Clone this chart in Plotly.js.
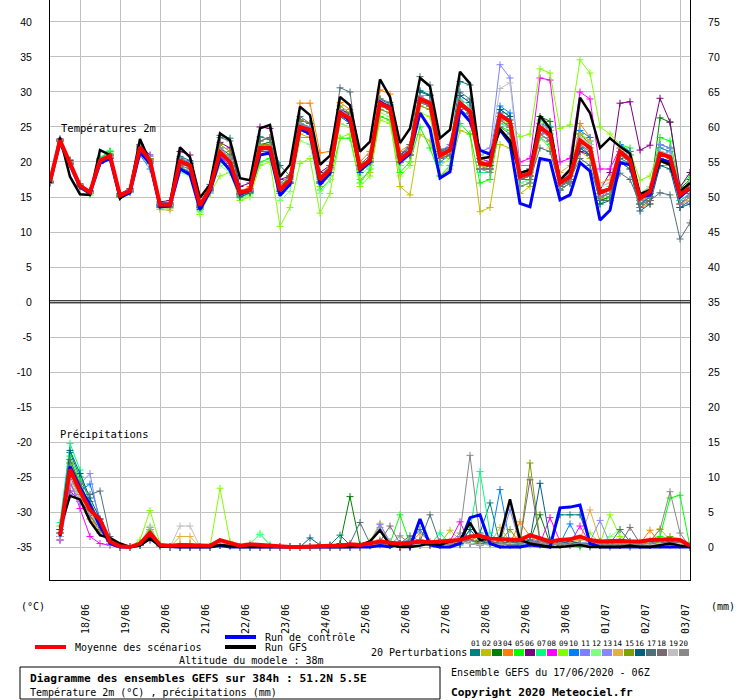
<!DOCTYPE html>
<html>
<head>
<meta charset="utf-8">
<script src="https://cdn.plot.ly/plotly-3.0.1.min.js"></script>
<style>
html,body{margin:0;padding:0;background:#fff;}
#chart{width:740px;height:700px;}
</style>
</head>
<body>
<div id="chart"></div>
<script>
// ---- time axis: hours since 17/06/2020 06Z (6-hourly, 384h) ----
const hours = [0,6,12,18,24,30,36,42,48,54,60,66,72,78,84,90,96,102,108,114,120,126,132,138,144,150,156,162,168,174,180,186,192,198,204,210,216,222,228,234,240,246,252,258,264,270,276,282,288,294,300,306,312,318,324,330,336,342,348,354,360,366,372,378,384];
const dayTickHours = [18,42,66,90,114,138,162,186,210,234,258,282,306,330,354,378];
const dayTickLabels = ["18/06","19/06","20/06","21/06","22/06","23/06","24/06","25/06","26/06","27/06","28/06","29/06","30/06","01/07","02/07","03/07"];
const leftTickVals = [-35,-30,-25,-20,-15,-10,-5,0,5,10,15,20,25,30,35,40];
const leftTickText = ["-35","-30","-25","-20","-15","-10","-5","0","5","10","15","20","25","30","35","40"];
const rightTickText = ["0","5","10","15","20","25","30","35","40","45","50","55","60","65","70","75"];

// ---- temperature 2m (°C) ----
const tempMean = [17.2,23.1,19.8,16.6,15.7,20.2,20.9,15.2,15.9,22.1,20.2,13.9,13.9,20.1,19.5,13.8,16.2,21.4,20.0,15.6,16.0,22.0,22.0,16.0,17.4,25.0,24.6,17.5,18.9,27.0,26.2,19.1,20.3,28.4,27.7,20.3,21.5,29.0,28.4,20.9,21.7,28.4,27.2,19.8,19.6,26.7,25.8,17.9,18.4,25.0,23.9,17.0,17.9,23.1,22.0,15.6,16.2,21.5,20.3,14.8,15.8,21.2,20.7,15.3,16.3];
const tempGFS = [17.0,23.5,17.9,15.4,15.3,21.7,21.0,14.8,16.0,23.3,20.0,14.0,14.0,22.1,20.7,14.9,16.8,24.1,23.1,17.7,17.4,24.8,25.3,17.9,19.6,27.9,26.7,19.6,20.9,29.3,28.1,21.5,22.9,31.8,29.3,22.7,24.8,32.0,30.8,23.4,24.6,32.9,31.2,20.5,20.7,24.7,23.1,18.4,18.9,26.6,24.8,17.4,18.9,29.2,27.0,22.0,23.4,22.2,21.2,15.4,16.0,20.2,19.6,15.8,17.0];
const tempCtrl = [17.0,22.8,19.6,16.4,15.5,19.8,20.5,14.9,15.6,21.4,19.8,13.6,13.7,19.0,18.2,13.2,15.8,20.5,18.8,15.4,16.0,21.0,21.3,15.2,16.8,24.8,24.0,16.8,18.4,27.2,25.8,18.8,20.0,28.6,27.8,20.0,21.2,27.0,24.8,17.7,18.6,27.4,25.8,21.7,21.1,24.6,22.7,14.1,13.6,20.5,20.2,14.6,15.3,19.9,18.7,11.7,13.1,19.9,19.6,15.0,15.3,20.4,20.0,15.0,16.2];
const tP01 = [17.1,23.0,20.3,16.9,15.6,20.0,21.2,15.0,15.7,21.8,20.4,13.6,13.5,20.8,20.2,13.6,16.8,23.8,23.4,16.0,15.8,23.6,23.2,19.5,18.0,25.8,24.2,17.0,19.5,27.5,27.0,19.6,21.0,29.0,28.2,21.0,22.0,30.2,29.6,21.8,22.0,31.5,31.0,20.5,20.0,27.5,26.5,18.5,19.0,24.0,23.0,16.5,17.2,22.0,21.0,14.5,15.0,20.5,19.8,14.0,15.0,22.5,22.0,14.5,15.5];
const tP02 = [17.3,22.9,19.6,16.4,15.8,20.4,20.6,15.3,16.0,22.4,20.0,14.0,14.2,20.5,19.0,14.0,15.8,21.0,19.5,15.2,16.2,21.5,21.5,15.5,17.0,24.0,23.5,16.5,18.0,25.5,25.0,17.5,18.5,26.5,26.0,16.5,15.3,23.9,23.0,18.0,19.0,24.5,24.0,12.9,13.5,22.5,22.0,15.5,16.5,23.5,22.0,16.0,17.0,21.5,20.5,14.8,15.5,20.0,19.0,13.5,14.5,20.5,20.0,15.5,16.8];
const tP03 = [17.2,23.2,19.9,16.5,15.5,20.5,21.5,15.4,16.1,22.0,20.5,13.8,13.8,20.0,19.8,13.5,16.0,22.0,21.0,15.3,15.6,22.5,22.8,16.5,17.8,25.5,25.0,18.0,19.0,27.0,26.5,19.0,20.2,28.0,27.5,20.5,21.0,28.5,28.0,21.0,21.5,28.0,27.0,19.0,19.5,27.0,26.0,18.0,18.5,26.5,25.8,17.5,18.0,24.0,22.5,14.5,15.0,21.0,20.0,14.0,15.0,26.3,25.7,16.2,17.5];
const tP04 = [17.2,23.1,20.0,16.8,15.6,20.3,20.8,15.1,15.8,22.3,20.3,13.5,13.4,20.3,19.6,13.7,16.5,21.8,20.5,15.8,16.5,23.0,23.5,16.5,18.0,28.4,28.4,21.3,21.5,28.5,27.5,20.0,21.5,30.3,29.7,21.5,22.5,29.5,28.5,20.5,21.0,28.5,27.5,19.5,19.0,26.0,25.0,17.5,18.0,24.5,24.0,16.5,17.5,25.5,23.5,15.5,16.0,21.0,20.0,13.5,14.0,21.5,21.0,13.5,14.5];
const tP05 = [17.2,23.0,19.9,16.5,15.3,20.5,21.5,15.0,15.8,21.8,19.8,14.0,14.0,19.0,18.5,13.0,15.5,20.0,19.0,15.0,15.5,20.0,20.5,15.5,17.0,23.5,23.5,16.0,17.5,23.4,23.4,17.0,19.0,26.5,26.0,18.5,20.0,25.0,22.0,18.0,19.5,25.5,24.0,17.0,17.5,25.0,24.5,16.5,17.0,26.0,25.0,16.0,17.0,24.0,23.0,14.0,15.0,22.5,22.0,15.0,16.0,23.5,23.0,16.5,18.0];
const tP06 = [17.0,23.3,20.2,16.7,15.9,19.8,20.5,15.5,16.2,22.5,21.0,14.3,14.5,21.5,21.0,13.2,15.7,22.8,22.0,16.5,17.0,25.0,24.8,17.5,18.0,26.0,25.5,18.5,19.5,27.5,26.8,19.5,20.5,28.0,27.5,20.0,21.5,28.8,28.0,20.5,21.5,28.0,27.0,19.5,19.5,26.5,25.5,18.0,18.5,24.5,23.5,17.5,18.5,21.5,21.0,16.0,18.5,28.4,28.6,21.7,22.4,29.1,25.7,16.4,18.5];
const tP07 = [17.3,23.0,19.7,16.6,15.8,20.6,21.6,15.4,16.0,21.6,20.0,13.9,14.0,19.5,19.5,14.0,16.3,21.0,19.5,15.3,15.8,22.5,22.0,15.8,16.9,24.5,24.0,17.5,18.5,26.5,26.0,18.8,19.5,27.5,27.0,19.5,21.0,29.5,29.5,20.5,21.0,29.0,28.0,18.5,18.5,25.5,25.0,17.0,17.5,23.5,22.5,16.5,17.5,22.5,21.0,15.5,16.5,21.5,21.0,14.0,15.5,19.5,19.5,14.5,15.5];
const tP08 = [17.1,23.2,19.8,16.5,15.6,20.1,20.7,15.2,15.9,22.0,20.2,13.8,13.8,20.4,19.8,13.9,16.1,20.8,19.5,15.5,15.9,22.0,22.5,16.2,17.5,25.2,24.8,17.8,19.2,27.0,26.3,19.2,20.5,28.5,27.8,20.8,21.8,29.3,28.6,21.0,22.0,28.0,27.0,20.5,20.0,26.5,25.5,20.0,20.5,32.0,31.7,20.0,20.5,30.0,29.0,19.0,19.0,22.0,21.5,14.5,15.5,20.5,20.0,14.0,15.5];
const tP09 = [17.2,23.0,19.9,16.4,15.7,20.2,21.3,15.0,15.6,21.5,19.5,13.5,13.6,19.5,18.5,12.5,15.5,18.0,18.5,14.5,15.0,19.5,20.0,10.8,13.5,19.8,20.5,12.7,15.5,23.5,24.0,16.5,18.0,26.0,25.5,18.0,19.5,27.0,26.5,19.5,20.5,27.5,26.0,20.0,21.0,26.0,25.5,23.6,24.0,33.3,32.7,24.8,25.3,34.6,32.7,25.0,24.0,22.5,21.5,17.4,18.0,22.0,21.5,16.0,17.0];
const tP10 = [17.2,23.1,19.8,16.6,15.7,20.0,20.6,15.0,15.7,21.0,19.0,13.5,13.8,19.2,18.6,13.5,16.0,21.0,20.5,15.4,16.0,22.3,22.0,16.0,17.0,24.5,24.0,17.0,18.5,26.5,26.0,19.5,20.5,28.0,27.5,20.0,21.0,28.5,28.0,20.0,21.0,27.5,26.5,21.0,21.5,28.0,27.0,17.5,18.0,25.5,25.0,17.0,18.5,24.5,23.5,15.0,15.5,22.5,21.5,14.0,15.0,22.0,21.5,13.5,14.5];
const tP11 = [17.0,23.0,19.8,16.8,15.9,20.3,20.9,15.3,16.1,22.5,20.8,14.2,14.2,20.6,20.0,14.2,16.4,22.0,20.6,15.7,16.0,22.2,21.5,16.5,17.5,25.5,25.0,17.2,18.5,27.5,26.5,19.0,20.0,28.5,27.8,20.5,21.5,29.0,28.0,21.5,22.5,29.5,28.5,21.5,22.0,33.9,32.0,19.5,19.5,24.5,23.5,17.0,18.0,22.5,21.0,15.0,16.0,21.0,20.0,15.5,16.5,22.5,22.0,16.0,17.0];
const tP12 = [17.3,23.1,20.0,16.5,15.5,20.4,21.1,15.1,15.8,21.4,19.5,13.3,13.3,18.5,18.0,12.8,15.7,19.5,18.5,14.8,15.3,21.0,21.0,14.5,15.8,23.0,22.5,15.5,17.5,25.5,25.0,18.0,19.5,27.0,26.5,19.5,21.0,28.0,27.5,20.5,21.5,28.5,27.0,20.0,19.5,26.0,25.0,17.0,17.5,24.0,23.0,17.5,18.5,23.5,22.0,15.5,16.0,22.0,21.0,15.5,16.5,21.5,21.0,15.0,16.0];
const tP13 = [17.1,23.0,19.6,16.7,15.8,20.2,20.8,15.2,16.0,22.0,20.1,13.9,13.9,20.0,19.5,13.8,16.2,21.5,20.0,15.6,16.0,22.0,22.0,15.5,17.0,25.0,24.5,17.5,19.0,27.0,26.0,19.0,20.0,28.0,27.5,20.0,21.5,29.0,28.5,21.0,21.5,28.5,27.5,19.5,19.5,27.0,26.0,18.0,18.5,25.5,24.5,17.0,18.0,23.0,22.0,15.5,16.0,21.5,21.0,14.5,15.5,21.0,21.5,15.5,16.5];
const tP14 = [17.2,23.1,19.9,16.6,15.6,20.1,20.7,15.0,15.7,21.9,20.0,13.2,13.1,20.0,19.5,13.8,16.1,21.3,20.0,15.6,16.2,22.0,22.0,16.0,17.5,25.0,24.5,17.5,19.0,27.0,26.2,19.0,20.0,28.0,27.5,20.0,21.0,28.5,28.0,20.5,21.5,28.0,27.0,19.5,19.0,26.0,25.0,18.0,18.5,25.0,24.0,18.5,19.5,24.0,23.0,17.0,17.5,22.0,21.0,14.0,14.5,20.0,19.5,14.0,14.5];
const tP15 = [17.3,23.2,20.1,16.8,15.7,20.3,21.0,15.4,16.0,22.3,20.5,14.0,14.0,20.3,19.7,13.6,16.0,22.5,21.5,15.3,15.8,22.5,22.5,16.5,18.0,26.0,25.5,18.0,19.5,28.0,27.0,19.5,20.5,27.5,27.0,20.0,21.0,28.0,27.5,20.5,21.0,28.0,27.0,19.0,19.0,26.5,25.5,17.5,18.0,25.0,24.0,17.5,18.5,23.5,22.0,16.0,16.0,21.5,20.0,14.5,15.5,21.0,20.5,15.5,16.0];
const tP16 = [17.1,23.0,19.7,16.6,15.8,20.2,20.9,15.1,15.8,21.9,20.0,13.7,13.7,19.8,19.3,13.4,16.0,21.0,19.8,15.0,15.6,21.5,21.5,15.8,17.0,24.5,24.0,17.0,18.5,26.5,25.5,18.5,20.0,28.5,28.0,21.0,22.0,30.0,29.5,21.5,22.0,29.5,28.5,20.0,19.5,27.5,26.5,18.5,19.0,25.5,24.5,16.0,17.0,22.0,21.0,14.0,14.5,20.0,19.0,13.0,14.0,19.5,19.0,13.5,14.0];
const tP17 = [17.2,23.1,19.8,16.5,15.6,20.3,21.0,15.2,15.9,22.2,20.3,13.9,14.0,20.5,19.8,13.8,16.3,23.5,23.0,15.8,16.2,23.0,23.5,17.0,18.0,26.5,25.5,17.8,19.5,30.6,30.0,19.5,20.5,29.0,28.5,21.0,22.5,32.2,31.0,21.5,22.0,30.0,29.0,19.0,19.0,25.0,24.0,17.5,17.5,22.0,21.5,16.5,17.5,20.5,19.5,14.5,14.5,18.4,17.5,14.0,14.5,15.6,15.3,9.0,11.3];
const tP18 = [17.2,23.0,19.8,16.6,15.7,20.0,20.5,15.2,15.8,21.8,19.8,13.9,13.9,19.5,19.0,14.0,16.2,21.2,19.8,15.5,15.8,21.6,21.5,15.8,17.2,24.5,24.0,17.2,18.5,26.5,26.0,19.0,20.0,28.0,27.5,20.0,21.0,28.5,28.0,20.5,21.0,28.0,27.0,19.0,19.0,26.0,25.0,17.5,18.0,24.0,23.0,16.5,17.5,22.5,21.5,15.0,15.5,21.0,20.0,13.5,14.5,20.5,20.0,14.0,15.0];
const tP19 = [17.3,23.0,19.9,16.7,15.7,20.1,20.8,15.3,15.9,21.9,20.3,14.0,13.8,20.2,19.5,13.9,16.3,21.5,20.2,15.7,16.1,22.1,22.2,16.2,17.5,25.2,24.8,17.7,19.0,27.2,26.4,19.3,20.4,28.6,27.9,20.5,21.6,29.2,28.6,21.0,21.8,28.6,27.4,21.0,21.5,30.5,31.3,18.5,19.0,25.5,24.5,17.5,18.5,23.5,22.5,16.5,17.0,22.0,21.0,15.0,16.0,21.5,21.0,15.5,17.0];
const tP20 = [17.1,23.2,19.9,16.7,15.8,20.3,21.0,15.3,16.0,22.1,20.3,14.0,14.0,19.8,19.2,13.7,16.1,21.6,20.3,15.7,16.1,22.3,22.3,16.3,17.6,25.3,24.8,17.8,19.2,27.3,26.5,19.3,20.5,28.7,28.0,20.6,21.8,29.3,28.7,21.2,22.0,28.7,27.5,19.0,18.5,26.0,25.0,16.5,17.0,24.0,23.0,16.0,17.0,22.5,21.5,15.0,15.5,21.0,20.0,14.5,15.0,20.5,20.0,14.0,15.0];

// ---- precipitation (mm per 6h) ----
const precMean = [null,1.7,11.1,8.0,5.3,3.9,0.8,0.1,0.0,0.5,2.0,0.3,0.2,0.3,0.3,0.2,0.2,1.0,0.6,0.2,0.4,0.3,0.1,0.0,0.0,0.0,0.1,0.1,0.2,0.2,0.4,0.3,0.5,0.8,0.6,0.5,0.6,0.8,0.7,0.8,0.8,1.0,1.5,1.6,1.2,1.1,1.0,1.0,1.7,1.2,0.8,1.0,1.1,1.5,1.0,0.8,0.9,0.9,0.8,0.8,1.0,1.1,1.1,1.0,0.2];
const precGFS = [null,2.7,7.3,6.8,3.7,1.7,1.3,0.5,0.0,0.2,1.2,0.1,0.0,0.0,0.0,0.0,0.0,0.3,0.1,0.0,0.0,0.0,0.0,0.0,0.0,0.0,0.0,0.0,0.0,0.0,0.0,0.3,0.8,2.4,0.3,0.0,0.0,0.2,0.5,0.3,0.8,1.0,3.5,1.0,1.2,1.3,6.8,1.0,0.5,0.3,0.0,0.0,0.2,0.3,0.0,0.0,0.0,0.0,0.2,0.0,0.0,0.3,0.5,0.2,0.0];
const precCtrl = [null,1.5,11.5,8.5,6.0,3.0,0.5,0.0,0.0,0.3,1.5,0.1,0.0,0.0,0.0,0.0,0.0,0.2,0.0,0.0,0.0,0.0,0.0,0.0,0.0,0.0,0.0,0.0,0.0,0.0,0.0,0.0,0.0,0.2,0.0,0.5,0.0,4.0,0.3,0.0,0.0,0.5,4.2,4.6,0.5,0.0,0.0,0.0,0.3,0.2,0.0,5.6,5.7,6.0,0.5,0.0,0.0,0.0,0.0,0.0,0.0,0.0,0.0,0.0,0.0];
const pP01 = [null,2.0,13.5,10.0,6.5,3.5,0.8,0.0,0.0,0.3,2.0,0.2,0.0,0.0,0.0,0.0,0.0,0.5,0.2,0.0,0.0,0.0,0.0,0.0,0.0,0.0,0.0,0.0,0.3,1.7,0.3,0.0,0.2,0.5,0.2,0.0,0.0,0.5,0.3,0.8,0.5,0.3,1.5,2.0,6.3,0.5,0.3,0.2,0.5,1.0,0.5,4.6,4.6,4.6,0.5,0.2,0.0,0.3,0.5,0.2,0.3,0.5,0.8,0.3,0.0];
const pP02 = [null,1.5,9.0,7.0,4.5,2.0,0.5,0.0,0.0,0.5,2.5,0.3,0.0,0.3,0.5,0.0,0.0,0.8,0.4,0.0,0.2,0.0,0.0,0.0,0.0,0.0,0.0,0.0,0.0,0.0,0.0,0.2,0.8,3.4,0.5,0.0,0.3,0.5,0.3,0.5,2.4,1.0,0.5,0.3,0.5,0.8,0.5,1.0,0.5,0.5,0.3,0.5,0.3,0.5,0.3,0.5,0.3,0.5,0.3,0.5,0.8,2.6,1.0,0.5,0.0];
const pP03 = [null,2.5,12.0,8.5,5.0,3.0,1.0,0.0,0.0,0.5,1.5,0.2,0.0,0.0,0.0,0.0,0.0,0.3,0.2,0.0,0.0,0.0,0.0,0.0,0.0,0.0,0.0,0.0,0.2,0.5,7.2,0.3,0.2,0.5,0.3,0.0,0.0,0.3,0.5,0.3,0.5,0.5,0.8,1.0,0.5,0.3,0.8,0.5,1.0,4.6,0.5,0.3,0.5,0.3,0.0,0.3,0.5,0.3,0.0,0.3,0.5,0.8,0.5,0.3,0.0];
const pP04 = [null,1.0,10.5,7.5,4.0,2.5,0.3,0.0,0.0,0.3,1.8,0.3,0.0,0.5,0.5,0.0,0.0,0.5,0.3,0.0,0.0,0.0,0.0,0.0,0.0,0.0,0.0,0.0,0.0,0.0,0.0,0.0,0.3,1.0,0.3,0.2,0.5,2.0,0.8,0.5,0.3,0.5,1.0,1.5,0.8,0.5,0.5,3.6,1.5,0.5,0.3,0.5,0.8,0.5,0.3,0.2,0.3,0.5,0.8,0.5,2.4,0.5,0.8,0.3,0.0];
const pP05 = [null,3.0,13.0,9.5,5.5,3.0,0.8,0.0,0.0,0.3,2.8,0.3,0.0,0.0,0.0,0.0,0.0,0.5,0.3,0.0,0.0,0.0,0.0,0.0,0.0,0.0,0.0,0.0,0.0,0.0,0.0,0.0,0.3,0.8,0.5,4.6,0.5,0.3,0.5,0.3,0.5,0.8,0.5,0.5,0.3,0.5,0.3,0.5,0.3,0.5,0.3,0.5,0.3,0.0,0.3,0.3,0.5,0.3,0.5,0.5,0.8,1.5,7.0,7.4,0.0];
const pP06 = [null,1.5,8.0,6.5,5.0,2.5,0.5,0.0,0.0,0.3,1.0,0.2,0.0,0.0,0.0,0.0,0.0,0.3,0.2,0.0,0.0,0.0,0.0,0.0,0.0,0.0,0.0,0.0,0.0,0.0,0.0,0.0,0.5,0.5,0.3,0.0,0.0,0.3,0.5,0.3,0.5,0.8,0.5,0.3,0.5,0.3,0.5,0.3,0.5,0.8,0.5,0.3,0.5,0.3,0.5,0.3,0.5,0.3,0.5,0.3,0.5,0.8,0.5,0.3,0.0];
const pP07 = [null,3.5,14.8,11.0,6.0,3.5,0.5,0.0,0.0,0.5,2.2,0.3,0.0,0.0,0.0,0.0,0.0,0.5,0.3,0.0,0.5,1.8,0.3,0.0,0.0,0.0,0.0,0.0,0.0,0.0,0.0,0.0,0.2,0.5,0.3,0.3,0.5,0.5,0.3,2.0,0.5,0.5,2.5,10.8,2.0,0.5,0.3,0.8,0.5,0.3,0.5,0.3,0.5,0.3,0.5,0.3,0.5,0.3,0.5,0.3,0.3,0.5,0.5,0.3,0.0];
const pP08 = [null,1.0,9.5,5.5,1.5,0.5,0.3,0.0,0.0,0.3,1.5,0.2,0.0,0.0,0.0,0.0,0.0,0.3,0.2,0.0,0.0,0.0,0.0,0.0,0.0,0.0,0.0,0.0,0.0,0.0,0.0,0.0,0.2,0.3,0.2,0.0,0.3,0.5,0.3,0.5,0.8,3.6,0.5,0.3,0.5,0.3,0.5,0.5,0.8,0.5,4.2,0.8,0.5,3.0,0.5,0.3,0.5,0.3,0.5,0.3,0.5,0.3,0.5,0.3,0.0];
const pP09 = [null,2.0,12.5,9.0,5.5,3.5,1.0,0.0,0.0,1.0,5.2,0.5,0.0,0.0,0.0,0.0,0.0,8.4,0.8,0.0,0.0,0.0,0.0,0.0,0.0,0.0,0.0,0.0,0.0,0.0,0.0,0.0,0.3,0.5,0.3,0.3,0.5,0.3,0.5,0.3,0.5,0.8,0.5,0.3,0.5,0.8,0.5,0.3,0.5,0.3,0.5,0.3,0.5,1.0,2.0,0.5,4.6,1.5,0.5,0.3,0.5,0.3,0.5,0.3,0.0];
const pP10 = [null,2.5,11.0,8.0,9.0,4.0,0.8,0.0,0.0,0.3,1.5,0.2,0.0,0.0,0.0,0.0,0.0,0.3,0.2,0.0,0.0,0.0,0.0,0.0,0.0,0.0,0.0,0.0,0.0,0.0,0.0,0.0,0.5,0.5,0.3,0.5,1.0,2.5,0.5,0.3,0.5,0.5,1.0,0.5,0.5,8.2,0.5,0.3,0.5,0.3,0.5,0.5,3.3,0.5,0.3,0.5,0.3,0.5,0.3,0.5,0.3,0.5,0.3,0.5,0.0];
const pP11 = [null,1.5,9.0,6.5,4.5,2.5,0.5,0.0,0.0,0.3,1.2,0.2,0.0,0.0,0.0,0.0,0.0,0.3,0.3,0.0,0.0,0.0,0.0,0.0,0.0,0.0,0.0,0.0,0.0,0.0,0.0,0.0,0.5,3.2,0.8,0.5,0.5,0.8,0.5,0.3,0.5,1.5,1.0,0.5,0.5,0.5,5.3,0.5,0.8,1.0,0.5,0.5,0.8,0.5,0.3,0.5,0.3,0.8,0.5,0.3,0.5,0.8,0.5,0.3,0.0];
const pP12 = [null,2.0,11.5,8.5,5.0,2.5,0.5,0.0,0.0,0.3,1.8,0.2,0.0,0.0,0.0,0.0,0.0,0.5,0.3,0.0,0.3,2.0,0.3,0.0,0.0,0.0,0.0,0.0,0.0,0.0,0.0,0.0,0.3,0.5,0.3,0.3,0.5,0.3,0.5,0.3,0.5,0.5,0.8,0.5,0.3,0.5,0.3,0.5,0.3,0.5,0.3,0.5,0.3,0.5,0.8,0.5,1.5,2.5,0.8,0.3,0.5,0.3,0.5,0.3,0.0];
const pP13 = [null,1.0,7.5,9.0,10.5,3.0,0.3,0.0,0.0,0.3,1.0,0.2,0.0,0.0,0.0,0.0,0.0,0.3,0.2,0.0,0.0,0.0,0.0,0.0,0.0,0.0,0.0,0.0,0.0,0.0,0.0,0.0,0.5,2.8,0.5,0.3,0.5,0.3,0.5,0.3,0.5,0.8,0.5,0.3,0.5,0.3,0.5,0.8,0.5,0.5,0.3,0.5,0.3,0.5,0.8,3.8,0.5,0.3,0.5,0.3,0.5,0.3,0.5,0.3,0.0];
const pP14 = [null,1.5,10.0,7.0,4.0,2.0,0.5,0.0,0.0,0.3,2.0,0.3,0.0,1.5,1.5,0.0,0.0,0.5,0.3,0.0,0.0,0.0,0.0,0.0,0.0,0.0,0.0,0.0,0.0,0.0,0.0,0.0,0.3,1.0,0.5,0.3,0.8,1.0,0.8,0.5,0.8,1.0,1.5,0.8,0.5,2.8,0.8,1.5,0.5,0.8,0.5,0.5,0.8,1.0,5.3,0.8,0.5,0.3,0.5,0.8,1.0,0.5,0.8,0.3,0.0];
const pP15 = [null,2.0,12.0,9.0,5.5,3.5,1.0,0.0,0.0,0.5,2.5,0.3,0.0,0.0,0.0,0.0,0.0,0.3,0.2,0.0,0.0,0.0,0.0,0.0,0.0,0.0,0.0,0.0,0.0,0.0,0.0,0.0,0.3,0.5,0.3,0.3,0.5,0.5,0.3,0.5,0.5,0.5,1.0,0.5,0.5,0.8,2.5,0.5,12.0,1.0,0.5,0.3,0.5,0.3,0.3,0.5,0.3,0.5,0.3,0.5,0.3,0.8,1.5,0.5,0.0];
const pP16 = [null,2.5,13.8,10.5,7.0,4.0,1.0,0.0,0.0,0.3,1.5,0.2,0.0,0.0,0.0,0.0,0.0,0.3,0.2,0.0,0.0,0.0,0.0,0.0,0.0,0.0,1.3,0.3,0.0,0.3,0.0,0.0,0.5,0.5,0.3,0.5,0.5,0.8,0.5,0.3,0.5,0.5,2.5,0.8,0.5,0.5,0.8,0.5,1.0,9.1,1.0,0.5,0.8,0.5,0.3,0.5,0.3,0.5,0.3,0.5,0.3,0.5,0.3,0.5,0.0];
const pP17 = [null,2.0,12.5,9.0,7.5,8.0,1.5,0.0,0.0,0.3,1.5,0.3,0.0,0.0,0.0,0.0,0.0,0.3,0.2,0.0,0.0,0.0,0.0,0.0,0.0,0.0,0.0,0.0,0.0,0.0,0.5,3.5,0.5,0.5,0.3,0.5,1.6,0.8,4.6,0.5,0.5,0.8,0.5,0.3,0.8,0.5,0.3,0.5,0.8,0.5,0.3,0.5,0.3,0.5,0.3,0.5,0.5,2.5,0.8,0.5,0.3,0.5,0.8,0.5,0.0];
const pP18 = [null,1.5,10.0,7.5,4.5,2.5,0.5,0.0,0.0,0.3,1.5,0.2,0.0,0.0,0.0,0.0,0.0,0.3,0.2,0.0,0.0,0.0,0.0,0.0,0.0,0.0,0.0,0.0,0.0,0.0,0.0,0.0,0.5,0.8,3.0,0.5,0.3,0.5,0.3,0.5,0.5,0.8,1.0,0.5,0.5,0.8,0.5,0.8,9.6,0.8,0.5,0.3,0.5,0.3,0.5,0.8,0.5,0.3,2.8,0.5,0.3,0.5,0.8,0.5,0.0];
const pP19 = [null,1.5,9.5,7.0,5.0,3.0,0.5,0.0,0.0,0.5,3.0,0.3,0.0,3.0,3.0,0.0,0.0,0.5,0.3,0.0,0.0,0.0,0.0,0.0,0.0,0.0,0.0,0.0,0.0,0.0,0.0,0.0,0.3,0.5,0.3,0.3,0.5,0.3,0.5,0.3,0.5,0.8,0.5,0.3,0.5,0.3,0.5,0.5,0.3,0.5,0.3,0.5,0.3,0.5,0.3,0.5,0.3,0.5,0.3,0.5,0.3,0.5,0.3,0.5,0.0];
const pP20 = [null,2.0,11.0,8.0,5.5,3.5,0.8,0.0,0.0,0.3,1.5,0.2,0.0,0.0,0.0,0.0,0.0,0.3,0.2,0.0,0.0,0.0,0.0,0.0,0.0,0.0,0.0,0.0,0.0,0.0,0.0,0.0,0.5,0.5,0.3,1.6,0.5,1.0,0.5,0.3,0.5,2.0,13.1,1.5,0.5,0.5,0.3,0.5,0.8,0.5,0.3,0.5,0.3,0.5,0.3,0.5,0.3,0.5,0.3,0.5,0.8,2.5,7.9,2.0,0.0];

const pertLabels = ["01","02","03","04","05","06","07","08","09","10","11","12","13","14","15","16","17","18","19","20"];
const pertColors = ["#008080","#c0c000","#008000","#ff8000","#00ff00","#800080","#00ff80","#ff00ff","#80ff00","#0080ff","#8080ff","#80ff80","#8888f8","#e0b040","#80a000","#006080","#507078","#786870","#c0c0c0","#888888"];
const pertTemp = [tP01,tP02,tP03,tP04,tP05,tP06,tP07,tP08,tP09,tP10,tP11,tP12,tP13,tP14,tP15,tP16,tP17,tP18,tP19,tP20];
const pertPrec = [pP01,pP02,pP03,pP04,pP05,pP06,pP07,pP08,pP09,pP10,pP11,pP12,pP13,pP14,pP15,pP16,pP17,pP18,pP19,pP20];

// ---- build traces ----
const traces = [];
function pertTrace(y, color, axis){
  return {x: hours, y: y, yaxis: axis, type: 'scatter', mode: 'lines+markers',
    line: {color: color, width: 1}, connectgaps: false,
    marker: {symbol: 'cross-thin', size: 5, color: color, line: {width: 1, color: color}},
    hoverinfo: 'skip', showlegend: false};
}
for (let i = 0; i < 20; i++) {
  traces.push(pertTrace(pertTemp[i], pertColors[i], 'y'));
  traces.push(pertTrace(pertPrec[i], pertColors[i], 'y3'));
}
function mainTrace(y, color, w, axis){
  return {x: hours, y: y, yaxis: axis, type: 'scatter', mode: 'lines',
    line: {color: color, width: w}, hoverinfo: 'skip', showlegend: false};
}
traces.push(mainTrace(tempCtrl, '#0000ff', 3, 'y'));
traces.push(mainTrace(precCtrl, '#0000ff', 3, 'y3'));
traces.push(mainTrace(tempGFS, '#000000', 2.5, 'y'));
traces.push(mainTrace(precGFS, '#000000', 2.5, 'y3'));
traces.push(mainTrace(tempMean, '#ff0000', 4, 'y'));
traces.push(mainTrace(precMean, '#ff0000', 4, 'y3'));

// ---- layout helpers (pixel -> paper) ----
const PL = 50, PR = 690, PT = 0, PB = 580;
const px = x => (x - PL) / (PR - PL);
const py = y => (PB - y) / (PB - PT);
const MONO = 'DejaVu Sans Mono, Liberation Mono, monospace';
const SANS = 'Liberation Sans, Arial, sans-serif';

const annotations = [];
const shapes = [];
function txt(x, y, s, size, opts){
  annotations.push(Object.assign({xref:'paper', yref:'paper', x: px(x), y: py(y), text: s,
    showarrow:false, xanchor:'left', yanchor:'middle',
    font:{family: MONO, size: size, color:'#000'}}, opts || {}));
}
function hline(x0, x1, y, color, w){
  shapes.push({type:'line', xref:'paper', yref:'paper', x0:px(x0), x1:px(x1), y0:py(y), y1:py(y), line:{color:color, width:w}});
}

// section labels
txt(59, 128, 'Températures 2m', 10.5);
txt(58, 434, 'Précipitations', 10.5);
// unit labels
txt(19, 606, '(°C)', 10);
txt(709, 606, '(mm)', 10);
// legend
hline(35, 66, 647, '#ff0000', 4);
txt(73, 647, 'Moyenne des scénarios', 10);
hline(225, 256, 637, '#0000ff', 4);
txt(263, 637, 'Run de contrôle', 10);
hline(225, 256, 647, '#000000', 4);
txt(263, 647, 'Run GFS', 10);
txt(251, 660, 'Altitude du modele : 38m', 10, {xanchor:'center'});
txt(369, 652, '20 Perturbations', 10);
for (let i = 0; i < 20; i++) {
  const x0 = 470 + i * 11;
  shapes.push({type:'rect', xref:'paper', yref:'paper', x0:px(x0), x1:px(x0 + 10), y0:py(656), y1:py(649),
    line:{width:0}, fillcolor: pertColors[i]});
  txt(x0 + 5, 643, pertLabels[i], 7.5, {xanchor:'center'});
}
// info box
shapes.push({type:'rect', xref:'paper', yref:'paper', x0:px(20), x1:px(440), y0:py(699), y1:py(667),
  line:{color:'#000', width:1}, fillcolor:'rgba(0,0,0,0)'});
txt(28, 678, '<b>Diagramme des ensembles GEFS sur 384h : 51.2N 5.5E</b>', 11.2);
txt(28, 692, 'Température 2m (°C) , précipitations (mm)', 10);
txt(449, 672, 'Ensemble GEFS du 17/06/2020 - 06Z', 10);
txt(449, 692, '<b>Copyright 2020 Meteociel.fr</b>', 11.2);

// separator (double line at 0 °C)
shapes.push({type:'line', xref:'paper', yref:'y', x0:0, x1:1, y0:0.18, y1:0.18, line:{color:'#000', width:1}});
shapes.push({type:'line', xref:'paper', yref:'y', x0:0, x1:1, y0:-0.12, y1:-0.12, line:{color:'#000', width:1}});

const yRange = [-39.71, 43.14];
const layout = {
  width: 740, height: 700,
  margin: {l: PL, r: 740 - PR, t: PT, b: 700 - PB, pad: 0},
  paper_bgcolor: '#fff', plot_bgcolor: '#fff',
  showlegend: false,
  xaxis: {
    range: [0, 384], type: 'linear', fixedrange: true,
    tickvals: dayTickHours, ticktext: dayTickLabels, tickangle: -90,
    ticks: 'outside', ticklen: 19, tickcolor: 'rgba(0,0,0,0)', ticklabelshift: 6,
    tickfont: {family: MONO, size: 10, color: '#000'},
    showgrid: true, gridcolor: '#c0c0c0', gridwidth: 1,
    showline: true, linecolor: '#000', linewidth: 1, mirror: false, zeroline: false
  },
  yaxis: {
    range: yRange, fixedrange: true,
    tickvals: leftTickVals, ticktext: leftTickText,
    ticks: 'outside', ticklen: 15, tickcolor: 'rgba(0,0,0,0)',
    tickfont: {family: SANS, size: 10.5, color: '#000'},
    showgrid: true, gridcolor: '#c0c0c0', gridwidth: 1,
    showline: true, linecolor: '#000', linewidth: 1, zeroline: false
  },
  yaxis2: {
    range: yRange, fixedrange: true, overlaying: 'y', side: 'right',
    tickvals: leftTickVals, ticktext: rightTickText,
    ticks: 'outside', ticklen: 15, tickcolor: 'rgba(0,0,0,0)',
    tickfont: {family: SANS, size: 10.5, color: '#000'},
    showgrid: false, showline: true, linecolor: '#000', linewidth: 1, zeroline: false
  },
  yaxis3: {
    range: [yRange[0] + 35, yRange[1] + 35], overlaying: 'y', visible: false, fixedrange: true
  },
  annotations: annotations,
  shapes: shapes
};
// dummy trace so the right axis is drawn
traces.unshift({x: [], y: [], yaxis: 'y2', type: 'scatter', hoverinfo: 'skip', showlegend: false});

Plotly.newPlot('chart', traces, layout, {staticPlot: true, displayModeBar: false});
</script>
</body>
</html>
